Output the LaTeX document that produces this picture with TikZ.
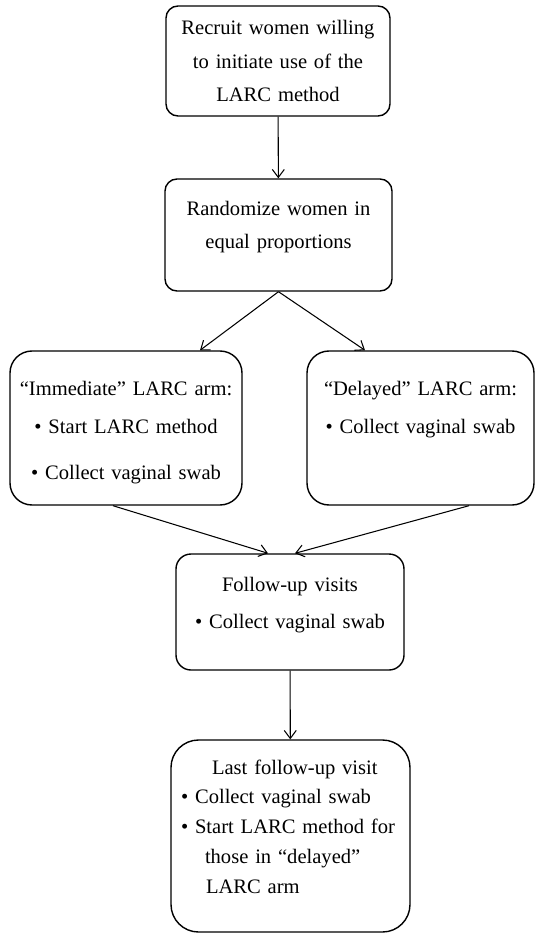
\documentclass[tikz,border=0pt]{standalone}
\usepackage{fontspec}
\setmainfont{Liberation Serif}
\usetikzlibrary{calc,arrows.meta}
\tikzstyle{box}=[draw, line width=0.8pt, inner xsep=0.1cm, inner ysep=0, align=center, font=\fontsize{11.7}{19}\selectfont]
\tikzstyle{arr}=[line width=0.6pt, -{Straight Barb[length=1.6mm,width=2.4mm]}]

\begin{document}
\begin{tikzpicture}
\useasboundingbox (0,0) rectangle (10.7,-18.68);
\node at (5.56,-1.22)[box, text width=4.28cm, minimum height=2.2cm, rounded corners=0.24cm](rec){Recruit women willing\\to initiate use of the\\LARC method};
\node at (5.57,-4.70)[box, text width=4.34cm, minimum height=2.24cm, rounded corners=0.24cm, text height=0.28cm, text depth=1.08cm](rand){Randomize women in\\equal proportions};
\node at (2.52,-8.56)[box, text width=4.44cm, minimum height=3.08cm, rounded corners=0.44cm, text height=0.5cm, text depth=1.8cm](imm){``Immediate'' LARC arm:\\[2.4pt]• Start LARC method\\[7.5pt]• Collect vaginal swab};
\node at (8.41,-8.56)[box, text width=4.34cm, minimum height=3.08cm, rounded corners=0.44cm, text height=0.5cm, text depth=1.8cm](del){``Delayed'' LARC arm:\\[2.4pt]• Collect vaginal swab};
\node at (5.80,-12.24)[box, text width=4.36cm, minimum height=2.32cm, rounded corners=0.3cm, text height=0.28cm, text depth=1.12cm](fol){Follow-up visits\\[2.5pt]• Collect vaginal swab};
\node at (5.81,-16.72)[box, inner xsep=0.2cm, text width=4.38cm, minimum height=3.84cm, rounded corners=0.55cm, align=left, font=\fontsize{11.7}{17}\selectfont, text height=0.28cm, text depth=2.76cm](last){\hspace*{0.62cm}Last follow-up visit\\• Collect vaginal swab\\• Start LARC method for\\\hspace*{0.48cm}those in ``delayed''\\\hspace*{0.5cm}LARC arm};
\draw[arr] (rec)--(rand);
\draw[arr] (rand.south)--($(imm.north)+(1.48,0)$);
\draw[arr] (rand.south)--($(del.north)+(-1.11,0)$);
\draw[arr] ($(imm.south)+(-0.26,0)$)--($(fol.north)+(-0.44,0)$);
\draw[arr] ($(del.south)+(0.97,0)$)--($(fol.north)+(0.1,0)$);
\draw[arr] (fol)--(last);
\end{tikzpicture}
\end{document}
